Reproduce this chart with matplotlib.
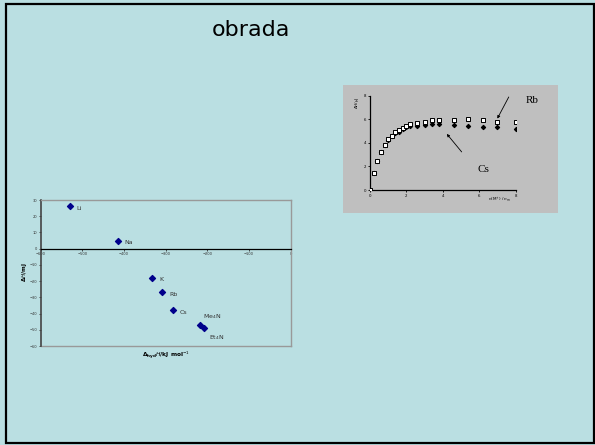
import matplotlib.pyplot as plt
from matplotlib.patches import Rectangle

W, H = 595, 445

# left chart: hydration enthalpy vs measured heat
ions = ["Li", "Na", "K", "Rb", "Cs", "Me$_4$N", "Et$_4$N"]
hyd_h = [-530, -415, -333, -308, -283, -218, -207]
heat = [26, 5, -18, -27, -38, -47, -49]

# right chart: heat vs n(M+)/n_m
ratio = [0, 0.2, 0.4, 0.6, 0.8, 1.0, 1.2, 1.4, 1.6, 1.8, 2.0, 2.2,
         2.6, 3.0, 3.4, 3.8, 4.6, 5.4, 6.2, 7.0, 8.0]
rb_vals = [0, 1.47, 2.49, 3.25, 3.81, 4.29, 4.6, 4.89, 5.08, 5.3, 5.45, 5.56,
           5.7, 5.79, 5.9, 5.9, 5.96, 5.99, 5.9, 5.79, 5.73]
cs_vals = [0, 1.45, 2.45, 3.2, 3.78, 4.25, 4.55, 4.8, 4.94, 5.14, 5.34, 5.42,
           5.4, 5.48, 5.56, 5.56, 5.48, 5.4, 5.34, 5.34, 5.2]

bg = "#badfe2"


def frac(x0, y0, x1, y1):
    # pixel box (top-left origin) -> figure fraction rect
    return [x0 / W, (H - y1) / H, (x1 - x0) / W, (y1 - y0) / H]


fig = plt.figure(figsize=(W / 100, H / 100), dpi=100)
fig.patch.set_facecolor(bg)
fig.patches.append(Rectangle((6 / W, 2 / H), 588 / W, 439 / H, transform=fig.transFigure,
                             fill=False, edgecolor="black", linewidth=1.6))
fig.text(251 / W, 1 - 30 / H, "obrada", ha="center", va="center", fontsize=16, color="black")

# ---- left chart
ax = fig.add_axes(frac(40.7, 200, 290.7, 346))
ax.set_facecolor("none")
ax.scatter(hyd_h, heat, marker="D", s=9, color="#00008b", zorder=3)
offs = {"Me$_4$N": (2, 6), "Et$_4$N": (3, -7)}
for lab, x, y in zip(ions, hyd_h, heat):
    dx, dy = offs.get(lab, (5, -1.5))
    ax.annotate(lab, (x, y), xytext=(dx, dy), textcoords="offset points",
                fontsize=4.5, color="#333333", va="center")
ax.set_xlim(-600, 0)
ax.set_ylim(-60, 30)
ax.set_xticks(range(-600, 1, 100))
ax.set_yticks(range(-60, 31, 10))
ax.tick_params(labelsize=2.6, length=1.5, width=0.6, pad=1.2, colors="#333333")
ax.spines["bottom"].set_position(("data", 0))
ax.spines["bottom"].set_color("black")
ax.spines["bottom"].set_linewidth(0.9)
ax.spines["left"].set_color("#444444")
ax.spines["left"].set_linewidth(1.2)
for s in ("top", "right"):
    ax.spines[s].set_color("#999999")
    ax.spines[s].set_linewidth(1.0)
ax.axhline(-60, color="#999999", linewidth=1.0, clip_on=False)
fig.text(24.5 / W, 1 - 272 / H, r"$\mathbf{\Delta}$$\mathit{H}$/mJ", rotation=90,
         ha="center", va="center", fontsize=4.0, fontweight="bold")
fig.text(166 / W, 1 - 355 / H, r"$\mathbf{\Delta_{hyd}}$$\mathit{H}$/kJ mol$^{-1}$",
         ha="center", va="center", fontsize=4.2, fontweight="bold")

# ---- right chart: gray picture box behind the axes
box = fig.add_axes(frac(343, 85, 558, 213), zorder=1)
box.set_facecolor("#bfbfbf")
box.set_xticks([])
box.set_yticks([])
for s in box.spines.values():
    s.set_visible(False)

ax2 = fig.add_axes(frac(370, 95.7, 515.7, 190), zorder=2)
ax2.set_facecolor("none")
ax2.scatter(ratio, cs_vals, marker="D", s=4, color="black", zorder=3)
ax2.scatter(ratio, rb_vals, marker="s", s=6, facecolor="white", edgecolor="black",
            linewidth=0.7, zorder=4)
ax2.set_xlim(0, 8)
ax2.set_ylim(0, 8)
ax2.set_xticks([0, 2, 4, 6, 8])
ax2.set_yticks([0, 2, 4, 6, 8])
ax2.tick_params(labelsize=2.8, length=1.5, width=0.6, pad=1.5)
for s in ("top", "right"):
    ax2.spines[s].set_visible(False)
for s in ("left", "bottom"):
    ax2.spines[s].set_linewidth(0.9)
ax2.annotate("", xy=(6.92, 5.85), xytext=(7.69, 8.1), annotation_clip=False,
             arrowprops=dict(arrowstyle="-|>", color="black", lw=0.6, mutation_scale=4))
ax2.annotate("", xy=(4.12, 4.94), xytext=(5.13, 3.05), annotation_clip=False,
             arrowprops=dict(arrowstyle="-|>", color="black", lw=0.6, mutation_scale=4))
ax2.text(8.55, 7.6, "Rb", fontsize=8, family="Liberation Serif", va="center")
ax2.text(6.25, 1.7, "Cs", fontsize=8, family="Liberation Serif", va="center", ha="center")
ax2.text(7.1, -0.45, r"$n$(M$^{+}$) / $n_m$", fontsize=3, ha="center", va="top")
ax2.text(-0.7, 7.4, r"$\Delta H$/$\mu$J", rotation=90, fontsize=3,
         ha="center", va="center")

fig.savefig("out.png", dpi=100, facecolor=bg)
